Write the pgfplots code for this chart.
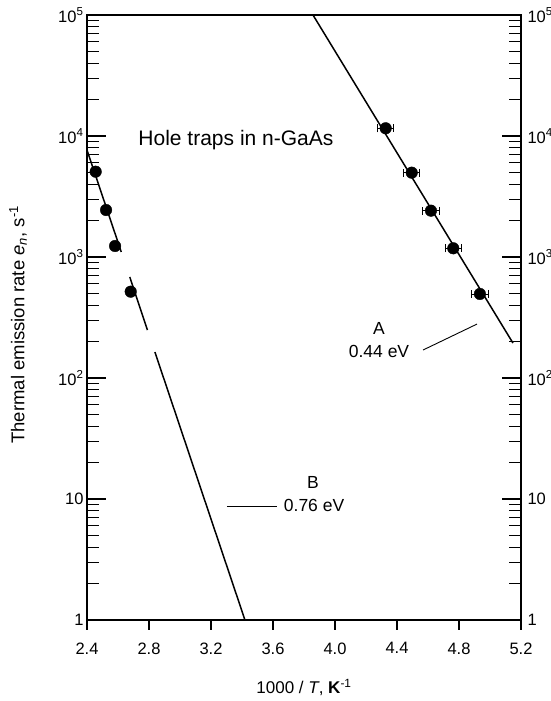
\documentclass[border=0pt]{standalone}
\usepackage{fontspec}
\setmainfont{Liberation Sans}
\usepackage{pgfplots}
\pgfplotsset{compat=1.18}

\begin{document}
\begin{tikzpicture}
\useasboundingbox (-87bp,-81bp) rectangle (464bp,620bp);
% main axis: data, left y labels
\begin{axis}[
  width=434bp, height=605bp, scale only axis,
  xmin=2.4, xmax=5.2,
  ymode=log, ymin=1, ymax=1e5,
  ytick={1,10,100,1000,10000,100000},
  yticklabels={1,10,10\textsuperscript{2},10\textsuperscript{3},10\textsuperscript{4},10\textsuperscript{5}},
  minor ytick={2,3,4,5,6,7,8,9,20,30,40,50,60,70,80,90,200,300,400,500,600,700,800,900,
    2000,3000,4000,5000,6000,7000,8000,9000,20000,30000,40000,50000,60000,70000,80000,90000},
  tick align=inside,
  major tick length=19bp, minor tick length=12bp,
  tick style={black, line width=1.2bp},
  axis line style={line width=1.8bp},
  tick label style={font=\fontsize{16.5bp}{19bp}\selectfont},
  yticklabel pos=left, ytick pos=both,
  xtick=\empty,
  xlabel={1000 / \textit{T}, \textbf{K}\textsuperscript{-1}},
  ylabel={Thermal emission rate \textit{e}\textsubscript{\textit{n}}, s\textsuperscript{-1}},
  xlabel style={font=\fontsize{17bp}{20bp}\selectfont, at={(axis description cs:0.5,-0.111)}, anchor=center},
  ylabel style={font=\fontsize{18.5bp}{22bp}\selectfont, at={(axis description cs:-0.159,0.488)}, anchor=center},
]
% trap A, 0.44 eV
\addplot[black, line width=1.5bp] coordinates {(3.858,100000) (5.148,194.6)};
\addplot[only marks, mark=*, mark size=5.8bp, black,
  error bars/.cd, x dir=both, x explicit,
  error mark=|,
  error bar style={line width=0.8bp},
  error mark options={mark size=4bp, line width=0.8bp}] coordinates {
  (4.327,11580) +- (0.052,0)
  (4.495,4975)  +- (0.052,0)
  (4.619,2414)  +- (0.052,0)
  (4.763,1180)  +- (0.052,0)
  (4.935,495)   +- (0.052,0)
};
% trap B, 0.76 eV (line drawn in three pieces)
\addplot[black, line width=1.5bp] coordinates {(2.400,7660) (2.621,1100)};
\addplot[black, line width=1.5bp] coordinates {(2.676,684) (2.790,249)};
\addplot[black, line width=1.5bp] coordinates {(2.838,164) (3.419,1)};
\addplot[only marks, mark=*, mark size=5.8bp, black] coordinates {
  (2.456,5070) (2.523,2445) (2.581,1233) (2.682,517)
};
% leader lines
\addplot[black, line width=0.9bp] coordinates {(4.568,170.3) (4.916,279)};
\addplot[black, line width=0.9bp] coordinates {(3.303,8.76) (3.626,8.76)};
\node[font=\fontsize{21bp}{25bp}\selectfont] at (axis cs:3.361,9270) {Hole traps in n-GaAs};
\node[font=\fontsize{17.5bp}{21bp}\selectfont] at (axis cs:4.284,259) {A};
\node[font=\fontsize{17.5bp}{21bp}\selectfont] at (axis cs:4.284,167) {0.44 eV};
\node[font=\fontsize{17.5bp}{21bp}\selectfont] at (axis cs:3.858,13.8) {B};
\node[font=\fontsize{17.5bp}{21bp}\selectfont] at (axis cs:3.865,8.76) {0.76 eV};
\end{axis}
% right y labels
\begin{axis}[
  width=434bp, height=605bp, scale only axis,
  xmin=2.4, xmax=5.2,
  ymode=log, ymin=1, ymax=1e5,
  ytick={1,10,100,1000,10000,100000},
  yticklabels={1,10,10\textsuperscript{2},10\textsuperscript{3},10\textsuperscript{4},10\textsuperscript{5}},
  minor ytick={2,3,4,5,6,7,8,9,20,30,40,50,60,70,80,90,200,300,400,500,600,700,800,900,
    2000,3000,4000,5000,6000,7000,8000,9000,20000,30000,40000,50000,60000,70000,80000,90000},
  tick align=inside,
  major tick length=19bp, minor tick length=12bp,
  tick style={black, line width=1.2bp},
  axis line style={line width=1.8bp},
  tick label style={font=\fontsize{16.5bp}{19bp}\selectfont},
  yticklabel style={xshift=3bp},
  hide x axis, yticklabel pos=right, ytick pos=both,
]
\addplot[draw=none] coordinates {(3,10)};
\end{axis}
% x ticks, pointing outward
\begin{axis}[
  width=434bp, height=605bp, scale only axis,
  xmin=2.4, xmax=5.2,
  ymode=log, ymin=1, ymax=1e5,
  hide y axis,
  tick align=outside, xtick pos=left,
  major tick length=10bp,
  tick style={black, line width=1.2bp},
  axis line style={line width=1.8bp},
  tick label style={font=\fontsize{16.5bp}{19bp}\selectfont},
  xtick={2.4,2.8,3.2,3.6,4.0,4.4,4.8,5.2},
  xticklabels={2.4,2.8,3.2,3.6,4.0,4.4,4.8,5.2},
  xticklabel style={yshift=-9bp},
]
\addplot[draw=none] coordinates {(3,10)};
\end{axis}
\end{tikzpicture}
\end{document}
